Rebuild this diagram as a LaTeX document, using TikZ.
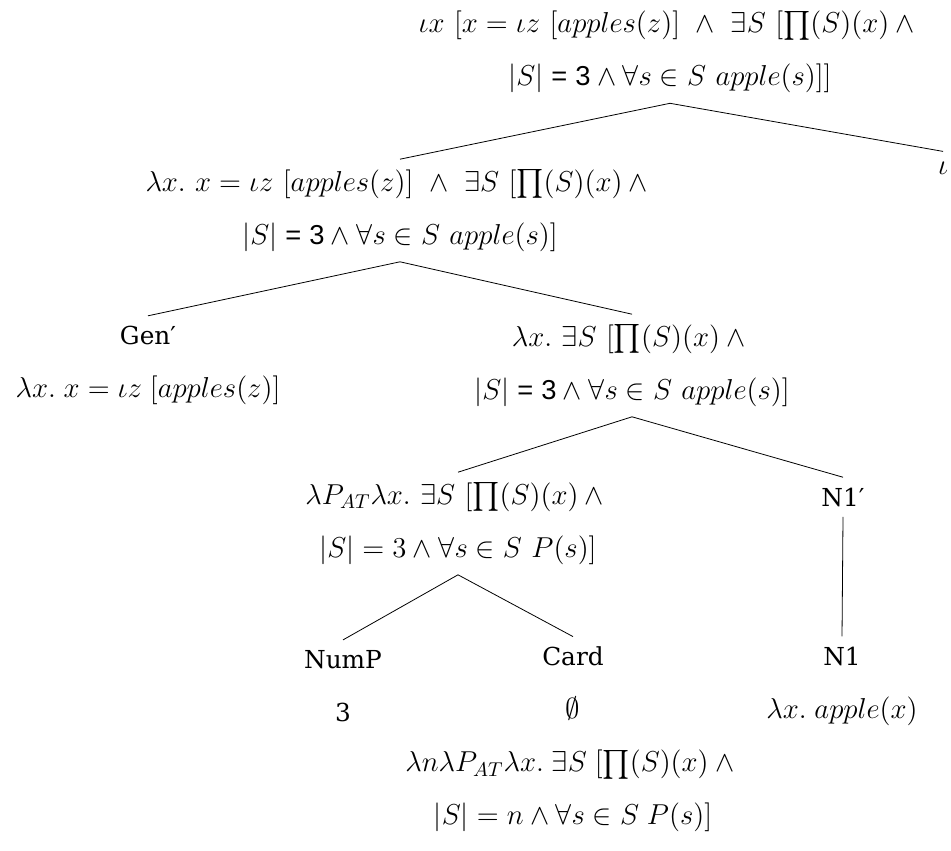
\RequirePackage{fix-cm}
\documentclass[tikz,border=0pt]{standalone}
\usepackage{amsmath}
\usepackage{fontspec}
\newfontfamily\numsf{Liberation Sans}[Scale=0.95]
\newfontfamily\labelfont{DejaVu Serif}[Scale=0.86]
\newcommand{\eqthree}{\mathrel{\text{\numsf =}}\text{\numsf 3}}
\begin{document}
\begin{tikzpicture}[x=0.5pt,y=-0.5pt,
  every node/.style={font=\fontsize{14.4}{26.5}\selectfont,align=center,inner xsep=2pt,inner ysep=5pt},
  cat/.style={font=\fontsize{14.4}{26.5}\selectfont\labelfont}]
\useasboundingbox (0,0) rectangle (951,850);

\node (root) at (670,52) {$\iota x\ [x = \iota z\ [apples(z)]\ \wedge\ \exists S\ [\prod(S)(x) \wedge {}$\\
  $|S| \eqthree \wedge \forall s \in S\ apple(s)]]$};
\node (iota) at (943,168) {$\iota$};

\node (lamx) at (400,210.5) {$\lambda x.\ x = \iota z\ [apples(z)]\ \wedge\ \exists S\ [\prod(S)(x) \wedge {}$\\
  $|S| \eqthree \wedge \forall s \in S\ apple(s)]$};

\node[cat] (gen) at (148,365.5) {Gen′\\ $\lambda x.\ x = \iota z\ [apples(z)]$};
\node (exs) at (632,365.5) {$\lambda x.\ \exists S\ [\prod(S)(x) \wedge {}$\\
  $|S| \eqthree \wedge \forall s \in S\ apple(s)]$};

\node (lamp) at (458,523.5) {$\lambda P_{AT} \lambda x.\ \exists S\ [\prod(S)(x) \wedge {}$\\
  $|S| = 3 \wedge \forall s \in S\ P(s)]$};
\node[cat] (nbar) at (843,497) {N1′};

\node[cat] (nump) at (343,686) {NumP\\ 3};
\node[cat] (card) at (573,739.5) {Card\\ $\emptyset$\\ $\lambda n \lambda P_{AT} \lambda x.\ \exists S\ [\prod(S)(x) \wedge {}$\\
  $|S| = n \wedge \forall s \in S\ P(s)]$};
\node[cat] (n1) at (842,686) {N1\\ $\lambda x.\ apple(x)$};

\draw (root.south) -- (lamx.north);
\draw (root.south) -- (iota.north);
\draw (lamx.south) -- (gen.north);
\draw (lamx.south) -- (exs.north);
\draw (exs.south) -- (lamp.north);
\draw (exs.south) -- (nbar.north);
\draw (lamp.south) -- (nump.north);
\draw (lamp.south) -- (card.north);
\draw (nbar.south) -- (n1.north);
\end{tikzpicture}
\end{document}
